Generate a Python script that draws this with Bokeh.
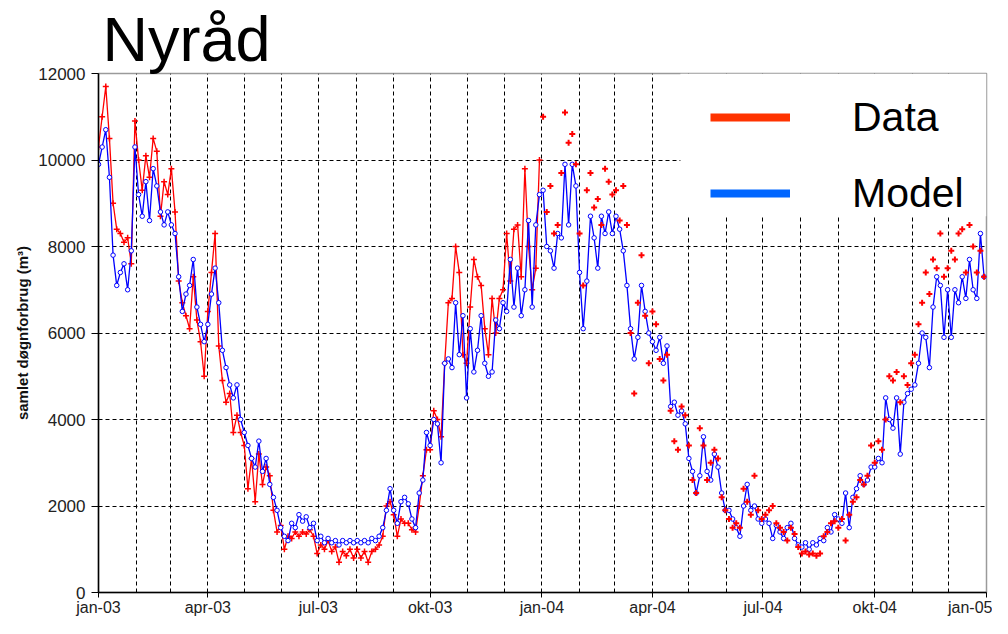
import numpy as np
import pandas as pd
from bokeh.plotting import figure
from bokeh.models import (FixedTicker, BoxAnnotation, Legend, LegendItem, Range1d)
from bokeh.embed import file_html
from bokeh.resources import INLINE

# ---------------- data (one value every 3 days) ----------------
start_date = "2003-01-01"
end_date = "2005-01-01"
step_days = 3

# Model, 2003-01-01 .. 2004-12-30
model_vals = [
    # jan-03
    9900, 10300, 10700, 9600, 7800, 7100, 7400, 7600, 7000, 7900, 10300,
    # feb-03
    9200, 8700, 9500, 8600, 9800, 9400, 8800, 8500, 8800,
    # mar-03
    8500, 8300, 7300, 6500, 6900, 7100, 7700, 6600, 6200, 5800,
    # apr-03
    6200, 6900, 7500, 6700, 5600, 5200, 4800, 4500, 4800, 4000,
    # maj-03
    3700, 3400, 3100, 2900, 3500, 2800, 3100, 2500, 2200, 1900, 1500,
    # jun-03
    1300, 1200, 1600, 1500, 1800, 1650, 1750, 1500, 1600, 1200,
    # jul-03
    1300, 1150, 1250, 1150, 1200, 1100, 1200, 1150, 1200, 1150,
    # aug-03
    1200, 1150, 1200, 1150, 1250, 1200, 1300, 1500, 1900, 2400,
    # sep-03
    1900, 1600, 2100, 2200, 2050, 1700, 1500, 2300, 2600, 3700,
    # okt-03
    3400, 4000, 3900, 3000, 5300, 5400, 5200, 6700, 5500, 6400, 4500,
    # nov-03
    6100, 5100, 5600, 6400, 5300, 5000, 5100, 6300, 6100, 6700,
    # dec-03
    6500, 7700, 6600, 7500, 6400, 7000, 8600, 6600, 8500, 9200,
    # jan-04
    9300, 8000, 7900, 7500, 8300, 8200, 9900, 8500, 9900, 9400,
    # feb-04
    7400, 6100, 7200, 8700, 8200, 7500, 8700, 8300, 8800, 8300,
    # mar-04
    8700, 8400, 7900, 7100, 6100, 5400, 5900, 7100, 6500, 6000,
    # apr-04
    5800, 5600, 5900, 5300, 5700, 4300, 4400, 4100, 4200, 3900,
    # maj-04
    3100, 2800, 2300, 2700, 3600, 2800, 2600, 3200, 2900, 2300, 1900,
    # jun-04
    1900, 1700, 1500, 1300, 2000, 2500, 1900, 2000, 1700, 1600,
    # jul-04
    1700, 1600, 1250, 1550, 1400, 1250, 1500, 1600, 1250, 1100,
    # aug-04
    1050, 1150, 1000, 1150, 1100, 1250, 1200, 1500, 1400, 1800,
    # sep-04
    1700, 1600, 2300, 1500, 2200, 2400, 2700, 2500, 2600, 2900,
    # okt-04
    2900, 3100, 3000, 4500, 4000, 3800, 4500, 3200, 4400, 4600, 4700,
    # nov-04
    4800, 5300, 6000, 5900, 5200, 6600, 7300, 7100, 5900, 7000,
    # dec-04
    5900, 7000, 6700, 7300, 6800, 7700, 7000, 6800, 8300, 7300,
]

# Measured data 2003 (connected line), 2003-01-01 .. 2003-12-30
data03_vals = [
    10300, 11000, 11700, 10500, 9000, 8400, 8300, 8100, 8200, 7600, 10900,
    10000, 9300, 10100, 9600, 10500, 10200, 8700, 9500, 9200,
    9800, 8800, 7200, 6700, 6400, 6100, 7300, 6300, 5800, 5000,
    6500, 7400, 8300, 5700, 4900, 4400, 4600, 3700, 4100, 3700,
    3400, 2400, 3100, 2100, 3200, 2500, 2900, 2700, 1900, 1400, 1550,
    1000, 1300, 1250, 1400, 1300, 1400, 1350, 1450, 1300, 900,
    1100, 1000, 1200, 950, 1050, 700, 950, 850, 1000, 800,
    1000, 800, 950, 700, 950, 1000, 1100, 1300, 2000, 2100,
    1800, 1300, 1700, 1600, 1600, 1450, 1400, 2000, 2700, 3300,
    3300, 4200, 4000, 3600, 5300, 6700, 6800, 8000, 7400, 5500, 5300,
    6600, 7700, 7300, 7100, 6100, 5500, 6800, 6000, 6800, 7000,
    8300, 7200, 8400, 8500, 7300, 9800, 8000, 7000, 7500, 10000,
]

# Measured data 2004 (points only), 2004-01-02 .. 2004-12-31
data04_first_day = 366
data04_vals = [
    11000, 8800, 9400, 8300, 8500, 9700, 11100, 10400, 10600, 9900,
    8300, 7100, 9300, 9700, 8900, 9100, 8500, 9800, 9500, 9200,
    9300, 8600, 9400, 8500, 6000, 4600, 6700, 7800, 6400, 5300,
    6500, 6200, 5400, 4900, 5500, 4200, 3500, 3300, 4300, 4100,
    3400, 2600, 2300, 3800, 3400, 2600, 3000, 3300, 3100, 2200, 1900,
    1700, 1500, 1600, 1500, 2400, 2100, 1800, 2700, 1900, 1700,
    1800, 1900, 2000, 1600, 1500, 1400, 1200, 1500, 1350, 1050,
    900, 950, 880, 900, 850, 900, 1300, 1400, 1600, 1650,
    1500, 1700, 1200, 1800, 2100, 2200, 2600, 2500, 2700, 3400,
    3000, 3500, 3300, 4000, 5000, 4900, 5100, 4400, 5000, 4800, 5300,
    5500, 6200, 6700, 7400, 6900, 7700, 7500, 8300, 7300, 7500,
    7900, 7700, 8300, 8400, 7400, 8500, 8000, 7400, 7900, 7300,
]

tick_dates = ["2003-01-01", "2003-04-01", "2003-07-01", "2003-10-01", "2004-01-01",
              "2004-04-01", "2004-07-01", "2004-10-01", "2005-01-01"]
tick_labels = ["jan-03", "apr-03", "jul-03", "okt-03", "jan-04",
               "apr-04", "jul-04", "okt-04", "jan-05"]
y_ticks = [0, 2000, 4000, 6000, 8000, 10000, 12000]

# ---------------- derived positions ----------------
t0 = pd.Timestamp(start_date)
def to_day(d):
    return int((pd.Timestamp(d) - t0).days)

x_end = to_day(end_date)
days_model = np.arange(len(model_vals)) * step_days
days_d03 = np.arange(len(data03_vals)) * step_days
days_d04 = data04_first_day + np.arange(len(data04_vals)) * step_days
tick_days = [to_day(d) for d in tick_dates]
month_days = [to_day(d) for d in pd.date_range(start_date, end_date, freq="MS")]

FONT = "Liberation Sans"

p = figure(width=992, height=618, x_range=Range1d(0, x_end), y_range=Range1d(0, 12000),
           output_backend="svg", toolbar_location=None, title="Nyråd",
           min_border_left=98, min_border_right=6, min_border_top=73, min_border_bottom=22)
p.background_fill_color = "white"
p.border_fill_color = "white"
p.outline_line_color = "#9a9a9a"
p.outline_line_width = 1.5

# title
p.title.text_font = FONT
p.title.text_font_size = "63px"
p.title.text_font_style = "normal"
p.title.text_color = "black"
p.title.standoff = 0
p.title.offset = 4
p.title.text_line_height = 0.9

# axes
p.xaxis.ticker = FixedTicker(ticks=tick_days)
p.xaxis.major_label_overrides = {d: lab for d, lab in zip(tick_days, tick_labels)}
p.yaxis.ticker = FixedTicker(ticks=y_ticks)
for ax in (p.xaxis, p.yaxis):
    ax.axis_line_color = "black"
    ax.axis_line_width = 1.5
    ax.major_tick_line_color = "black"
    ax.major_tick_in = 0
    ax.minor_tick_line_color = None
    ax.major_label_text_font = FONT
    ax.major_label_text_font_size = "16px"
    ax.major_label_text_color = "#222222"
p.xaxis.major_tick_out = 5
p.xaxis.major_label_standoff = 1
p.yaxis.major_tick_out = 7
p.yaxis.major_label_standoff = 6
p.yaxis.major_label_text_font_size = "17px"
p.yaxis.axis_label = "samlet døgnforbrug (m³)"
p.yaxis.axis_label_text_font = FONT
p.yaxis.axis_label_text_font_style = "bold"
p.yaxis.axis_label_text_font_size = "15px"
p.yaxis.axis_label_text_color = "#111111"
p.yaxis.axis_label_standoff = 4

# grids
p.xgrid.ticker = FixedTicker(ticks=month_days[1:-1])
p.ygrid.ticker = FixedTicker(ticks=y_ticks[1:-1])
for g in (p.xgrid, p.ygrid):
    g.grid_line_color = "black"
    g.grid_line_width = 1
    g.grid_line_dash = "4 3"

# series
p.line(days_d03, data03_vals, line_color="#FF0000", line_width=1.3)
p.scatter(days_d03, data03_vals, marker="cross", size=6, line_color="#FF0000", line_width=1.5)
p.line(days_model, model_vals, line_color="#0000FF", line_width=1.3)
p.scatter(days_model, model_vals, marker="circle", size=4.5, line_color="#0000FF",
          fill_color="white", line_width=1)
p.scatter(days_d04, data04_vals, marker="cross", size=6, line_color="#FF0000", line_width=2)

# legend area (white box as in the original)
p.add_layout(BoxAnnotation(left=479, bottom=8700, fill_color="white", fill_alpha=1.0,
                           line_color=None))
leg_data = p.line(x=[np.nan], y=[np.nan], line_color="#FF3300", line_width=8)
leg_model = p.line(x=[np.nan], y=[np.nan], line_color="#0066FF", line_width=8)
legend = Legend(items=[LegendItem(label="Data", renderers=[leg_data]),
                       LegendItem(label="Model", renderers=[leg_model])],
                location=(612, 361), orientation="vertical",
                glyph_width=80, glyph_height=76, label_height=76, spacing=0,
                padding=0, margin=0, label_standoff=62,
                label_text_font=FONT, label_text_font_size="41px", label_text_color="black",
                background_fill_alpha=0, border_line_color=None)
p.add_layout(legend)

open("out.html", "w").write(file_html(p, INLINE))
